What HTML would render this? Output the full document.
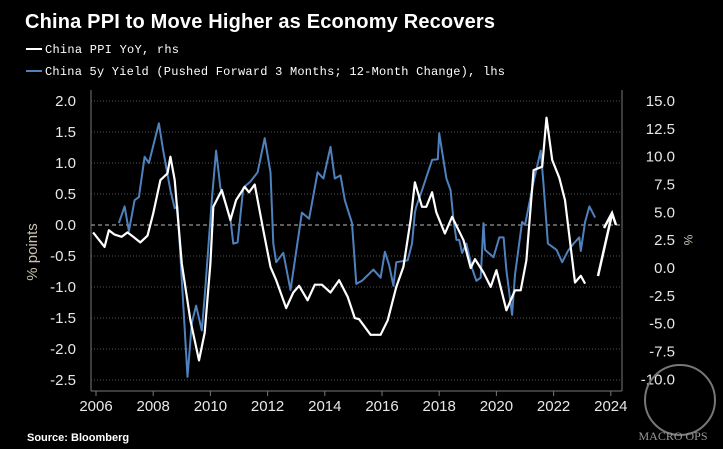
<!DOCTYPE html>
<html><head><meta charset="utf-8"><style>
body{margin:0;background:#000;}
svg{display:block;}
text{font-family:"Liberation Sans",sans-serif;}
</style></head><body>
<svg id="chart" width="723" height="449" viewBox="0 0 723 449">
<rect width="723" height="449" fill="#000"/>
<text x="25" y="28" fill="#fff" font-size="20" font-weight="bold" textLength="470">China PPI to Move Higher as Economy Recovers</text>
<g>
<line x1="26" y1="49" x2="42" y2="49" stroke="#fff" stroke-width="2"/>
<text x="45" y="53" fill="#fff" font-size="12" style="font-family:'Liberation Mono',monospace" textLength="134">China PPI YoY, rhs</text>
<line x1="26" y1="71" x2="42" y2="71" stroke="#4f81bd" stroke-width="2"/>
<text x="45" y="75" fill="#fff" font-size="12" style="font-family:'Liberation Mono',monospace" textLength="460">China 5y Yield (Pushed Forward 3 Months; 12-Month Change), lhs</text>
</g>
<g id="grid"></g>
<g id="axes"></g>
<g id="series"></g>
<text transform="translate(37,252) rotate(-90)" text-anchor="middle" fill="#c9c3b0" font-size="15">% points</text>
<text transform="translate(684,240) rotate(90)" text-anchor="middle" fill="#c9c3b0" font-size="12">%</text>
<polyline points="598,276 612,214" fill="none" stroke="#fff" stroke-width="2.5"/>
<polyline points="604,228 612,213 616,225" fill="none" stroke="#fff" stroke-width="2.5"/>
<text x="27" y="441" fill="#fff" font-size="11" font-weight="bold">Source: Bloomberg</text>
<circle cx="680" cy="400" r="35" fill="none" stroke="#777" stroke-width="2"/>
<text x="673" y="440" text-anchor="middle" fill="#999" font-size="12" style="font-family:'Liberation Serif',serif">MACRO OPS</text>
</svg>
<script>
const yearTicks=[2006,2008,2010,2012,2014,2016,2018,2020,2022,2024];
const leftTicks=[2.0,1.5,1.0,0.5,0.0,-0.5,-1.0,-1.5,-2.0,-2.5];
const rightTicks=[15,12.5,10,7.5,5,2.5,0,-2.5,-5,-7.5,-10];
const ppiDates=[2005.9,2006.3,2006.45,2006.65,2006.9,2007.1,2007.3,2007.55,2007.8,2008.0,2008.25,2008.5,2008.6,2008.75,2009.0,2009.3,2009.6,2009.8,2010.0,2010.1,2010.4,2010.7,2010.9,2011.2,2011.35,2011.55,2011.85,2012.1,2012.3,2012.65,2012.9,2013.1,2013.4,2013.65,2013.9,2014.2,2014.5,2014.8,2015.05,2015.2,2015.6,2015.95,2016.2,2016.5,2016.75,2017.0,2017.15,2017.4,2017.55,2017.75,2017.9,2018.2,2018.45,2018.85,2019.1,2019.25,2019.55,2019.8,2020.0,2020.35,2020.65,2020.85,2021.05,2021.3,2021.6,2021.75,2021.95,2022.2,2022.4,2022.75,2022.95,2023.1];
const ppiValues=[3.2,1.9,3.4,3.0,2.8,3.2,2.8,2.3,2.9,4.9,7.9,8.5,10.0,7.9,0.4,-4.7,-8.3,-5.8,0.4,5.5,7.0,4.3,6.1,7.3,6.8,7.5,3.4,0.1,-1.1,-3.6,-2.2,-1.6,-2.9,-1.5,-1.5,-2.2,-1.1,-2.6,-4.5,-4.6,-6.0,-6.0,-4.7,-1.7,0.1,4.3,7.7,5.5,5.5,6.8,5.0,3.1,4.6,2.5,0.0,0.8,-0.4,-1.7,-0.2,-3.8,-2.0,-2.0,0.7,8.8,9.1,13.5,9.7,8.1,6.1,-1.3,-0.7,-1.4];
const yieldDates=[2006.8,2007.0,2007.15,2007.35,2007.5,2007.7,2007.85,2008.2,2008.35,2008.6,2008.75,2008.85,2009.2,2009.35,2009.5,2009.7,2009.8,2010.05,2010.2,2010.35,2010.7,2010.8,2010.95,2011.15,2011.4,2011.65,2011.9,2012.1,2012.2,2012.3,2012.55,2012.8,2013.2,2013.45,2013.75,2013.95,2014.2,2014.35,2014.55,2014.7,2014.95,2015.1,2015.3,2015.7,2015.95,2016.1,2016.25,2016.4,2016.5,2016.9,2017.05,2017.15,2017.2,2017.4,2017.75,2017.95,2018.0,2018.25,2018.4,2018.5,2018.6,2018.7,2018.8,2018.95,2019.15,2019.3,2019.45,2019.55,2019.6,2019.9,2020.1,2020.25,2020.35,2020.55,2020.65,2020.9,2021.0,2021.3,2021.55,2021.65,2021.8,2021.95,2022.1,2022.3,2022.5,2022.7,2022.9,2022.95,2023.1,2023.25,2023.45];
const yieldValues=[0.03,0.3,-0.1,0.4,0.45,1.1,1.0,1.64,1.2,0.56,0.27,0.3,-2.45,-1.58,-1.3,-1.7,-1.15,0.4,1.2,0.6,0.1,-0.3,-0.28,0.6,0.7,0.85,1.4,0.85,-0.3,-0.6,-0.45,-1.05,0.2,0.1,0.85,0.75,1.26,0.75,0.8,0.4,0.03,-0.95,-0.9,-0.72,-0.85,-0.43,-0.65,-0.98,-0.6,-0.57,-0.3,0.2,0.3,0.56,1.05,1.06,1.48,0.75,0.56,0.08,-0.24,-0.24,-0.45,-0.3,-0.7,-0.9,-0.85,0.03,-0.4,-0.52,-0.2,-0.2,-0.73,-1.45,-0.8,0.05,0.0,0.7,1.2,0.64,-0.3,-0.35,-0.4,-0.6,-0.42,-0.3,-0.2,-0.42,0.05,0.3,0.12];

const NS='http://www.w3.org/2000/svg';
const X0=91,X1=622,YB=391;
const xS=y=>96+(y-2006)*28.6;
const yL=v=>225-v*62;
const yR=v=>268-v*11.13;
function mk(tag,attrs,parent){const e=document.createElementNS(NS,tag);for(const k in attrs)e.setAttribute(k,attrs[k]);parent.appendChild(e);return e;}
const grid=document.getElementById('grid'),axes=document.getElementById('axes'),series=document.getElementById('series');
leftTicks.forEach(v=>{
  const g=mk('line',{x1:X0,x2:X1,y1:yL(v),y2:yL(v),stroke:v===0?'#bbb':'#555','stroke-width':1,'stroke-dasharray':v===0?'4,3':'1,2'},grid);
  
  
  const t=mk('text',{x:76,y:yL(v)+5,'text-anchor':'end',fill:'#e8e8e8','font-size':15},axes);
  t.textContent=v.toFixed(1);
  
  
});
rightTicks.forEach(v=>{
  const t=mk('text',{x:675,y:yR(v)+5,'text-anchor':'end',fill:'#e8e8e8','font-size':15},axes);
  t.textContent=v.toFixed(1);
  
  
});
let a=mk('line',{x1:X0,x2:X0,y1:90,y2:YB,stroke:'#777'},axes);


a=mk('line',{x1:X1,x2:X1,y1:90,y2:YB,stroke:'#777'},axes);


a=mk('line',{x1:X0,x2:X1,y1:YB,y2:YB,stroke:'#777'},axes);


yearTicks.forEach(yr=>{
  const l=mk('line',{x1:xS(yr),x2:xS(yr),y1:YB,y2:YB+5,stroke:'#777'},axes);
  
  
  const t=mk('text',{x:xS(yr),y:YB+20,'text-anchor':'middle',fill:'#e8e8e8','font-size':15},axes);
  t.textContent=yr;
  
  
});
const yp=mk('polyline',{points:yieldDates.map((d,i)=>xS(d).toFixed(1)+','+yL(yieldValues[i]).toFixed(1)).join(' '),fill:'none',stroke:'#4f81bd','stroke-width':2,'stroke-linejoin':'round'},series);


const pp=mk('polyline',{points:ppiDates.map((d,i)=>xS(d).toFixed(1)+','+yR(ppiValues[i]).toFixed(1)).join(' '),fill:'none',stroke:'#fff','stroke-width':2.2,'stroke-linejoin':'round'},series);


</script>
</body></html>
